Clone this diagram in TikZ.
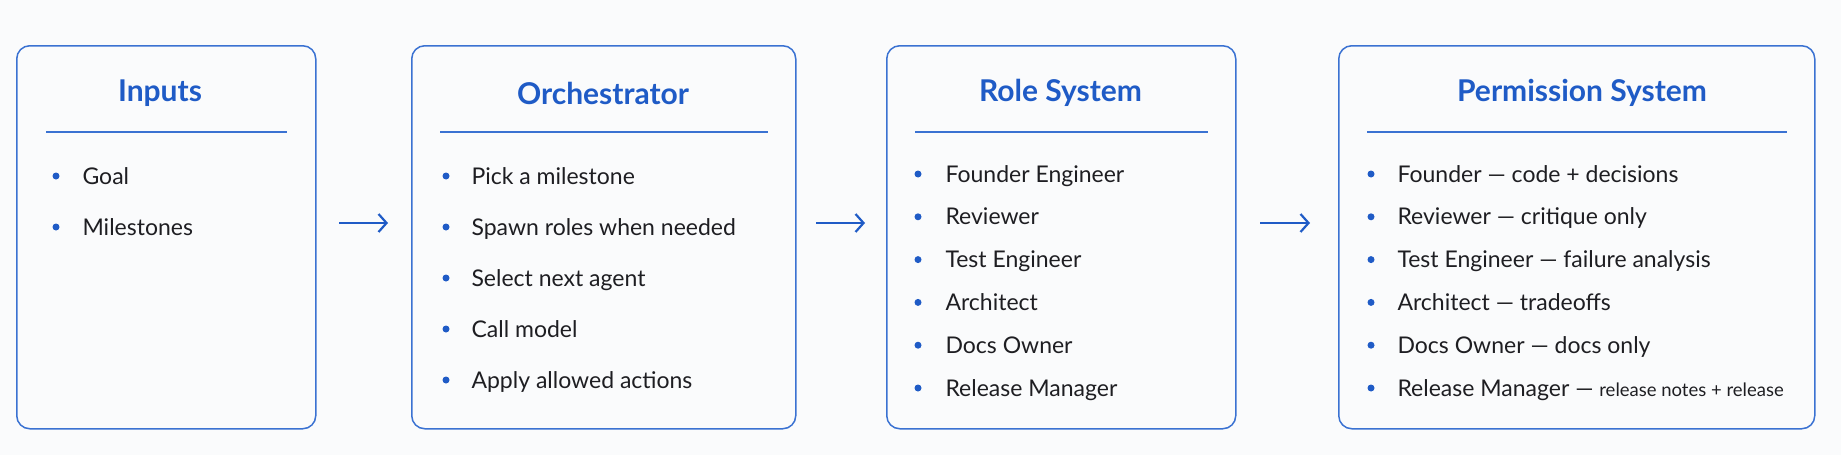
\documentclass[tikz,border=0pt]{standalone}
\usepackage{fontspec}
\setmainfont{Lato}
\usetikzlibrary{arrows.meta}
\definecolor{bl}{HTML}{1F5BC6}
\definecolor{bd}{HTML}{3A72D2}
\definecolor{tx}{HTML}{1E1E22}
\begin{document}
\begin{tikzpicture}[x=1pt,y=-1pt,
  box/.style={draw=bd,line width=1.5pt,rounded corners=13pt},
  ttl/.style={font=\fontsize{30}{34}\selectfont\bfseries,text=bl,anchor=center},
  itm/.style={font=\fontsize{23}{26}\selectfont,text=tx,anchor=base west},
  dot/.style={circle,fill=bl,inner sep=0pt,minimum size=7pt},
  arr/.style={draw=bl,line width=2.2pt,-{Straight Barb[length=8pt,width=18pt,line width=2.2pt]}}]
\useasboundingbox[fill={rgb,255:red,250;green,251;blue,252}] (0,0) rectangle (1841,455);
% boxes
\node[box,minimum width=299pt,minimum height=383pt,anchor=north west] (b1) at (16,45) {};
\node[box,minimum width=384pt,minimum height=383pt,anchor=north west] (b2) at (411,45) {};
\node[box,minimum width=349pt,minimum height=383pt,anchor=north west] (b3) at (886,45) {};
\node[box,minimum width=476pt,minimum height=383pt,anchor=north west] (b4) at (1338,45) {};
% titles
\node[ttl] (t1) at (160,93) {Inputs};
\node[ttl] (t2) at (603,93) {Orchestrator};
\node[ttl] (t3) at (1060.5,93) {Role System};
\node[ttl] (t4) at (1582,93) {Permission System};
\draw[bd,line width=1.5pt] (46,132) -- (287,132);
\draw[bd,line width=1.5pt] (440,132) -- (768,132);
\draw[bd,line width=1.5pt] (915,132) -- (1208,132);
\draw[bd,line width=1.5pt] (1367,132) -- (1787,132);
% box 1
\foreach \i/\t in {0/Goal,1/Milestones}{
  \node[dot] (d1\i) at (56,176+51*\i) {};
  \node[itm] (i1\i) at (79,184+51*\i) {\t};}
% box 2
\foreach \i/\t in {0/Pick a milestone,1/Spawn roles when needed,2/Select next agent,3/Call model,4/Apply allowed actions}{
  \node[dot] (d2\i) at (446,176+51*\i) {};
  \node[itm] (i2\i) at (468,184+51*\i) {\t};}
% box 3
\foreach \i/\t in {0/Founder Engineer,1/Reviewer,2/Test Engineer,3/Architect,4/Docs Owner,5/Release Manager}{
  \node[dot] (d3\i) at (918,174+42.8*\i) {};
  \node[itm] (i3\i) at (942,182+42.8*\i) {\t};}
% box 4
\foreach \i/\t in {0/{Founder — code + decisions},1/{Reviewer — critique only},2/{Test Engineer — failure analysis},3/{Architect — tradeoffs},4/{Docs Owner — docs only},5/{Release Manager — {\fontsize{18.5}{20}\selectfont release notes + release}}}{
  \node[dot] (d4\i) at (1371,174+42.8*\i) {};
  \node[itm] (i4\i) at (1394,182+42.8*\i) {\t};}
% arrows
\coordinate (a1s) at (339,223); \coordinate (a1e) at (388,223);
\coordinate (a2s) at (816,223); \coordinate (a2e) at (865,223);
\coordinate (a3s) at (1260,223); \coordinate (a3e) at (1310,223);
\draw[arr] (a1s) -- (a1e);
\draw[arr] (a2s) -- (a2e);
\draw[arr] (a3s) -- (a3e);
\end{tikzpicture}
\end{document}
